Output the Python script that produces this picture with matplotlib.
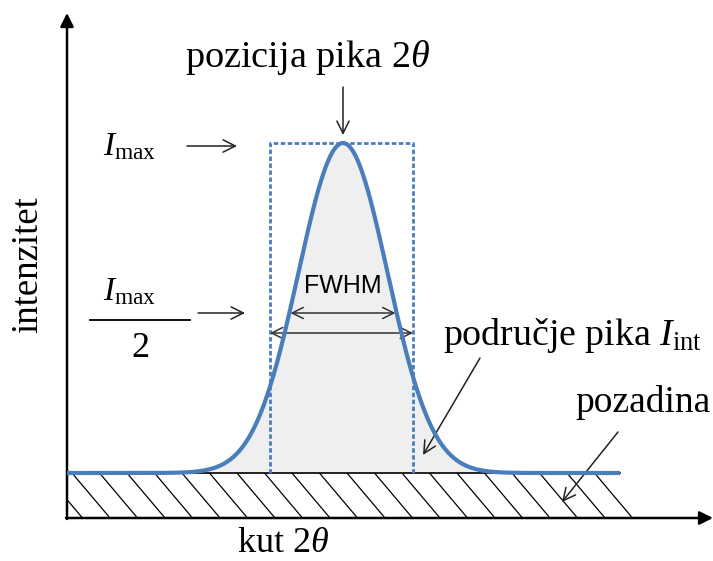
import numpy as np
import matplotlib
matplotlib.use('Agg')
import matplotlib.pyplot as plt

plt.rcParams['font.family'] = ['Liberation Serif', 'DejaVu Serif']
plt.rcParams['mathtext.fontset'] = 'custom'
plt.rcParams['mathtext.rm'] = 'Liberation Serif'
plt.rcParams['mathtext.it'] = 'Liberation Serif:italic'

# Schematic peak (pixel-like units, y up)
peak_pos = 343          # 2theta position of the peak
peak_height = 330       # I_max above background
fwhm = 105              # full width at half maximum
background = 88         # background level
scan_range = [67, 620]  # measured 2theta range
breadth_box = [270, 413]  # integral breadth rectangle

BLUE = '#4a7ebb'
GRAY = '#efefef'

fig = plt.figure(figsize=(7.13, 5.61), dpi=100)
ax = fig.add_axes([0, 0, 1, 1])
ax.set_xlim(0, 713)
ax.set_ylim(0, 561)
ax.axis('off')

x0, y0 = 67, 43  # origin of the drawn axes

# peak profile
x = np.linspace(scan_range[0], scan_range[1], 800)
y = background + peak_height * np.exp(-4 * np.log(2) * (x - peak_pos) ** 2 / fwhm ** 2)
ax.fill_between(x, background, y, color=GRAY, lw=0, zorder=1)

# background hatched area
ax.plot([x0, scan_range[1]], [background, background], color='black', lw=1.2, zorder=2)
clip = plt.Rectangle((x0, y0), 713 - x0, background - y0, transform=ax.transData)
for xs in np.arange(44.5, 601, 27.5):
    ln, = ax.plot([xs, xs + 38], [background, y0], color='black', lw=0.9, zorder=2)
    ln.set_clip_path(clip)

# integral breadth box
top = background + peak_height
ax.plot([breadth_box[0], breadth_box[0], breadth_box[1], breadth_box[1]],
        [background, top, top, background],
        color=BLUE, lw=2.0, ls=(0, (1.6, 0.9)), zorder=3)

ax.plot(x, y, color=BLUE, lw=3.0, zorder=4, solid_capstyle='butt')

# axes with arrows
ax.annotate('', xy=(x0, 548), xytext=(x0, y0 - 1),
            arrowprops=dict(arrowstyle='-|>', color='black', lw=1.8,
                            mutation_scale=20, shrinkA=0, shrinkB=0))
ax.annotate('', xy=(713, y0), xytext=(x0 - 1, y0),
            arrowprops=dict(arrowstyle='-|>', color='black', lw=1.8,
                            mutation_scale=20, shrinkA=0, shrinkB=0))

arw = dict(arrowstyle='->', color='#222222', lw=1.1, mutation_scale=22,
           shrinkA=0, shrinkB=0)
dbl = dict(arrowstyle='<->', color='#333333', lw=1.1, mutation_scale=20,
           shrinkA=0, shrinkB=0)

# peak position
ax.text(185, 494, r'pozicija pika 2$\theta$', ha='left', va='baseline', fontsize=27.5)
ax.annotate('', xy=(peak_pos, top + 8), xytext=(peak_pos, 474), arrowprops=arw)

# I_max
ax.text(103, 406, r'$I_{\mathrm{max}}$', ha='left', va='baseline', fontsize=24)
ax.annotate('', xy=(237, 415), xytext=(187, 415), arrowprops=arw)

# I_max / 2
ax.text(103, 261, r'$I_{\mathrm{max}}$', ha='left', va='baseline', fontsize=24)
ax.plot([90, 190], [241, 241], color='black', lw=1.3)
ax.text(140, 204, '2', ha='center', va='baseline', fontsize=26)
ax.annotate('', xy=(245, 248), xytext=(198, 248), arrowprops=arw)

# FWHM
ax.text(peak_pos, 268, 'FWHM', ha='center', va='baseline', fontsize=18,
        family='Liberation Sans')
ax.annotate('', xy=(peak_pos + fwhm / 2, 248), xytext=(peak_pos - fwhm / 2, 248),
            arrowprops=dbl)
ax.annotate('', xy=(breadth_box[1], 228), xytext=(breadth_box[0], 228),
            arrowprops=dbl)

# peak area
ax.text(443, 216, r'područje pika $I_{\mathrm{int}}$', ha='left', va='baseline', fontsize=27.3)
ax.annotate('', xy=(423, 106), xytext=(480, 203), arrowprops=arw)

# background
ax.text(575, 149, 'pozadina', ha='left', va='baseline', fontsize=27)
ax.annotate('', xy=(562, 59), xytext=(618, 129), arrowprops=arw)

# axis labels
ax.text(283, 9, r'kut 2$\theta$', ha='center', va='baseline', fontsize=26)
ax.text(28, 296, 'intenzitet', ha='center', va='center', rotation=90, fontsize=26.5)

fig.savefig('out.png', dpi=100)
